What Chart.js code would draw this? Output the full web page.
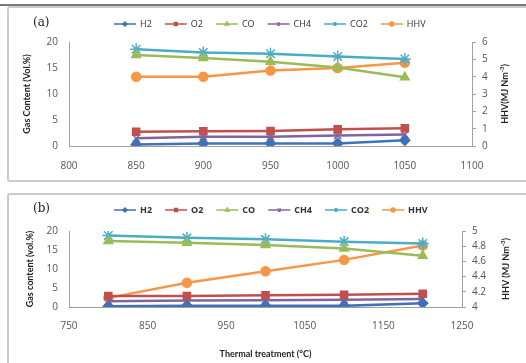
<!DOCTYPE html>
<html>
<head>
<meta charset="utf-8">
<script src="https://cdn.jsdelivr.net/npm/chart.js@4.4.1/dist/chart.umd.min.js"></script>
<style>
  body { margin: 0; background: #fff; width: 526px; height: 363px; overflow: hidden; position: relative; }
  .panel { position: absolute; left: 7px; width: 530px; border: 2px solid #cbcbcb; border-radius: 3px; box-sizing: border-box; }
  #pa { top: 6px; height: 176px; }
  #pb { top: 193px; height: 190px; }
  #topline { position: absolute; left: 0; width: 526px; top: 4px; height: 2px; background: #7a7a7a; }
  canvas { position: absolute; left: 0; }
  #ca { top: 0; }
  #cb { top: 183px; }
</style>
</head>
<body>
<div id="topline"></div>
<div class="panel" id="pa"></div>
<div class="panel" id="pb"></div>
<canvas id="ca" width="526" height="182"></canvas>
<canvas id="cb" width="526" height="180"></canvas>
<script>
// series names shared by both panels
const NAMES = ['H2', 'O2', 'CO', 'CH4', 'CO2', 'HHV'];
const COLORS = ['#3f72b6', '#c0504d', '#9bbb59', '#8064a2', '#4bacc6', '#f79646'];
const MARKERS = ['rectRot', 'rect', 'triangle', 'crossRot', 'star', 'circle'];

// (a) gas composition vs temperature
const tempsA = [850, 900, 950, 1000, 1050];
const h2A  = [0.3, 0.5, 0.5, 0.5, 1.1];
const o2A  = [2.75, 2.85, 2.9, 3.2, 3.4];
const coA  = [17.5, 16.9, 16.2, 15.1, 13.2];
const ch4A = [1.5, 1.8, 1.8, 2.0, 2.2];
const co2A = [18.6, 18.0, 17.75, 17.2, 16.75];
const hhvA = [4.0, 4.0, 4.35, 4.5, 4.8];

// (b) thermal treatment
const tempsB = [800, 900, 1000, 1100, 1200];
const h2B  = [0.2, 0.3, 0.3, 0.3, 1.0];
const o2B  = [2.9, 2.9, 3.1, 3.2, 3.5];
const coB  = [17.4, 16.9, 16.3, 15.4, 13.5];
const ch4B = [1.5, 1.7, 1.8, 1.9, 2.1];
const co2B = [18.8, 18.2, 17.8, 17.2, 16.7];
const hhvB = [4.12, 4.32, 4.47, 4.62, 4.81];

const TICK_FONT = { family: 'Open Sans', size: 10 };
const TITLE_FONT = { family: 'Lato', size: 9, weight: 'bold' };

// Excel style legend (line + marker + name), panel tag and the right axis title
const excelLegend = {
  id: 'excelLegend',
  afterDraw(chart, args, o) {
    const ctx = chart.ctx;
    ctx.save();
    ctx.textBaseline = 'middle';
    ctx.fillStyle = '#222';
    ctx.font = '12px "DejaVu Serif"';
    ctx.fillText(o.tag, 33, o.y - 1);
    ctx.font = o.font;
    let x = o.x;
    chart.data.datasets.forEach(ds => {
      ctx.strokeStyle = ds.borderColor;
      ctx.fillStyle = ds.borderColor;
      ctx.lineWidth = 1.5;
      ctx.beginPath(); ctx.moveTo(x, o.y); ctx.lineTo(x + 22, o.y); ctx.stroke();
      if (Chart.helpers && Chart.helpers.drawPoint) {
        Chart.helpers.drawPoint(ctx, { pointStyle: ds.pointStyle, radius: 2, borderWidth: 1 }, x + 11, o.y);
      }
      ctx.fillStyle = '#333';
      ctx.fillText(ds.label, x + 26, o.y + 0.5);
      x += 26 + ctx.measureText(ds.label).width + o.gap;
    });

    // right title reads bottom to top, with superscript -3
    const area = chart.chartArea;
    ctx.translate(o.rX, (area.top + area.bottom) / 2);
    ctx.rotate(-Math.PI / 2);
    ctx.fillStyle = '#222';
    const big = 'bold 9px Lato', small = 'bold 6px Lato';
    ctx.font = big; const w1 = ctx.measureText(o.rMain).width, w3 = ctx.measureText(')').width;
    ctx.font = small; const w2 = ctx.measureText('-3').width;
    let tx = -(w1 + w2 + w3) / 2;
    ctx.font = big; ctx.fillText(o.rMain, tx, 0); tx += w1;
    ctx.font = small; ctx.fillText('-3', tx, -3); tx += w2;
    ctx.font = big; ctx.fillText(')', tx, 0);
    ctx.restore();
  }
};

function buildSets(temps, lists) {
  return lists.map((vals, i) => ({
    label: NAMES[i],
    data: temps.map((t, k) => ({ x: t, y: vals[k] })),
    yAxisID: NAMES[i] === 'HHV' ? 'y1' : 'y',
    borderColor: COLORS[i],
    backgroundColor: COLORS[i],
    pointBackgroundColor: COLORS[i],
    pointBorderColor: COLORS[i],
    pointStyle: MARKERS[i],
    pointRadius: MARKERS[i] === 'star' ? 6 : (MARKERS[i] === 'circle' ? 4.5 : 5),
    pointBorderWidth: 1.5,
    borderWidth: 2.5,
    tension: 0
  }));
}

function makeChart(id, temps, lists, cfg) {
  return new Chart(document.getElementById(id), {
    type: 'line',
    data: { datasets: buildSets(temps, lists) },
    plugins: [excelLegend],
    options: {
      responsive: false,
      animation: false,
      layout: { padding: { top: cfg.top, left: 0, right: 0, bottom: 0 } },
      plugins: {
        legend: { display: false },
        tooltip: { enabled: false },
        excelLegend: { tag: cfg.tag, y: cfg.legendY, x: 114, gap: 13, font: cfg.legendFont,
                       rX: cfg.rTitleX, rMain: cfg.rTitle }
      },
      scales: {
        x: {
          type: 'linear', min: cfg.xMin, max: cfg.xMax,
          afterFit: s => { s.height = cfg.xHeight; },
          grid: { display: false, drawTicks: false },
          border: { display: true, color: '#a0a0a0', width: 1 },
          ticks: { stepSize: cfg.xStep, font: TICK_FONT, color: '#555', padding: cfg.xPad,
                   callback: v => String(v) },
          title: cfg.xTitle ? { display: true, text: cfg.xTitle, font: TITLE_FONT, color: '#222', padding: { top: 0, bottom: 4 } } : { display: false }
        },
        y: {
          position: 'left', min: 0, max: 20,
          afterFit: s => { s.width = 69; },
          grid: { display: false, drawTicks: false },
          border: { display: true, color: '#a0a0a0', width: 1 },
          ticks: { stepSize: 5, font: TICK_FONT, color: '#555', padding: 11 },
          title: { display: true, text: cfg.yTitle, font: TITLE_FONT, color: '#222', padding: { top: cfg.yTitlePad, bottom: 0 } }
        },
        y1: {
          position: 'right', min: cfg.rMin, max: cfg.rMax,
          afterFit: s => { s.width = 526 - cfg.plotRight; },
          grid: { display: true, drawOnChartArea: false, drawTicks: true, tickLength: 4, color: '#a0a0a0' },
          border: { display: true, color: '#a0a0a0', width: 1 },
          ticks: { stepSize: cfg.rStep, font: TICK_FONT, color: '#555', padding: 6,
                   callback: v => String(Math.round(v * 10) / 10) },
          title: { display: false }
        }
      }
    }
  });
}

makeChart('ca', tempsA, [h2A, o2A, coA, ch4A, co2A, hhvA], {
  tag: '(a)', legendY: 24, legendFont: '9px "Open Sans"', top: 42,
  xMin: 800, xMax: 1100, xStep: 50, xHeight: 36, xPad: 14, xTitle: null,
  yTitle: 'Gas Content (Vol.%)', yTitlePad: 22,
  rMin: 0, rMax: 6, rStep: 1, plotRight: 472, rTitle: 'HHV(MJ Nm', rTitleX: 505
});

makeChart('cb', tempsB, [h2B, o2B, coB, ch4B, co2B, hhvB], {
  tag: '(b)', legendY: 27, legendFont: 'bold 9px "Open Sans"', top: 48,
  xMin: 750, xMax: 1250, xStep: 100, xHeight: 56, xPad: 13, xTitle: 'Thermal treatment (\u00B0C)',
  yTitle: 'Gas content (vol.%)', yTitlePad: 25,
  rMin: 4, rMax: 5, rStep: 0.2, plotRight: 462, rTitle: 'HHV (MJ Nm', rTitleX: 506
});
</script>
</body>
</html>
